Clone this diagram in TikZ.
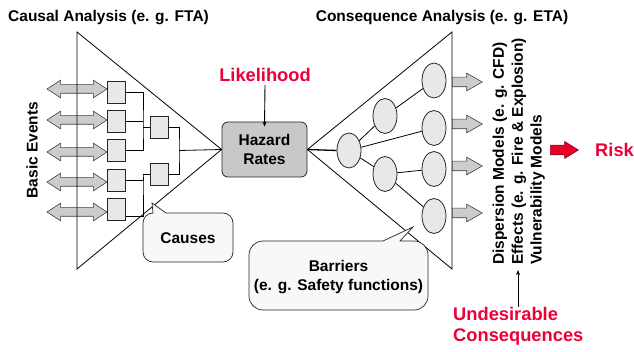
\documentclass[tikz,border=0pt]{standalone}
\usepackage{fontspec}
\setmainfont{Liberation Sans}
\usetikzlibrary{arrows.meta,shapes.geometric,shapes.arrows}
\definecolor{redtxt}{RGB}{236,0,56}
\definecolor{boxfill}{RGB}{232,232,232}
\definecolor{hazfill}{RGB}{200,200,200}
\definecolor{arrfill}{RGB}{204,204,204}
\definecolor{callfill}{RGB}{248,248,248}
\definecolor{riskfill}{RGB}{232,0,40}
\definecolor{riskdraw}{RGB}{150,0,20}
\tikzset{
  txt/.style={font=\fontsize{15.5}{18.8}\selectfont\bfseries, inner sep=0pt},
  redt/.style={font=\fontsize{18.3}{21}\selectfont\bfseries, text=redtxt, inner sep=0pt},
  evbox/.style={draw=black!85, fill=boxfill, minimum width=18pt, minimum height=22pt, inner sep=0pt, line width=0.6pt},
  circ/.style={ellipse, draw=black!85, fill=boxfill, minimum width=24pt, minimum height=35pt, inner sep=0pt, line width=0.8pt},
  tri/.style={line width=0.8pt},
  conn/.style={line width=0.8pt},
  dbl/.style={double arrow, draw=black!75, fill=arrfill, line width=0.6pt, minimum height=60pt, inner xsep=0pt, inner ysep=4pt, double arrow head extend=4.5pt, double arrow tip angle=66, anchor=center},
  sgl/.style={single arrow, draw=black!75, fill=arrfill, line width=0.6pt, minimum height=30pt, inner xsep=0pt, inner ysep=4.5pt, single arrow head extend=4pt, single arrow tip angle=59, anchor=west},
  callout/.style={draw=black!85, fill=callfill, line width=0.7pt},
}
\begin{document}
\begin{tikzpicture}[x=1pt,y=-1pt]
\useasboundingbox (0,0) rectangle (634,352);

% titles
\node[txt, anchor=west] (t1) at (8,18) {Causal Analysis (e. g. FTA)};
\node[txt] (t2) at (442,18) {Consequence Analysis (e. g. ETA)};

% basic events
\node[txt, rotate=90] (be) at (32,150) {Basic Events};

% double arrows
\node[dbl] (a1) at (77,89) {};
\node[dbl] (a2) at (77,120) {};
\node[dbl] (a3) at (77,152) {};
\node[dbl] (a4) at (77,182) {};
\node[dbl] (a5) at (77,212) {};

% hazard box
\node[draw=black!85, fill=hazfill, rounded corners=6pt, minimum width=85pt, minimum height=55pt, line width=0.8pt, txt, align=center] (haz) at (264.5,149.5) {Hazard\\Rates};

% left triangle
\coordinate (lt) at (77,32);
\coordinate (lb) at (77,269);
\draw[tri] (lt) -- (lb) -- (haz.west) -- cycle;

% right triangle
\coordinate (rt) at (452,32);
\coordinate (rb) at (452,269);
\draw[tri] (rt) -- (rb) -- (haz.east) -- cycle;

% event boxes
\node[evbox] (b1) at (116.5,92) {};
\node[evbox] (b2) at (116.5,121) {};
\node[evbox] (b3) at (116.5,150.5) {};
\node[evbox] (b4) at (116.5,180.5) {};
\node[evbox] (b5) at (116.5,209.5) {};
\node[evbox] (g1) at (159,127.5) {};
\node[evbox] (g2) at (159,174) {};

\coordinate (j1) at (143,127.5);
\coordinate (j2) at (143,174);
\coordinate (j3) at (179,150.5);
\draw[conn] (b1.east) -| (j1) |- (b3.east);
\draw[conn] (b2.east) -- (b2.east -| j1);
\draw[conn] (j1) -- (g1.west);
\draw[conn] (b4.east) -| (j2) |- ([yshift=-6.5pt]b5.east);
\draw[conn] (j2) -- (g2.west);
\draw[conn] (g1.east) -| (j3) |- (g2.east);
\draw[conn] (j3) -- (haz.west);

% likelihood
\node[redt] (lik) at (265,75) {Likelihood};
\draw[line width=0.9pt, -{Stealth[length=5pt,width=4pt]}] (lik.south) ++(0,3) -- ([yshift=-5pt]haz.north);

% event tree
\node[circ] (r) at (349,150.5) {};
\node[circ] (m1) at (385,116) {};
\node[circ] (m2) at (385,174) {};
\node[circ] (l1) at (434,80.5) {};
\node[circ] (l2) at (434,128) {};
\node[circ] (l3) at (434,169) {};
\node[circ] (l4) at (434,216) {};
\draw[line width=1.3pt] (haz.east) -- (r.west);
\draw[conn] (r) -- (m1);
\draw[conn] (r) -- (l2);
\draw[conn] (r) -- (m2);
\draw[conn] (m1) -- (l1);
\draw[conn] (m2) -- (l3);
\draw[conn] (m2) -- (l4);

% output arrows
\node[sgl] (o1) at (452,82) {};
\node[sgl] (o2) at (452,124) {};
\node[sgl] (o3) at (452,166) {};
\node[sgl] (o4) at (452,213) {};

% rotated model labels
\node[txt, rotate=90, anchor=west] (d1) at (500,265) {Dispersion Models (e. g. CFD)};
\node[txt, rotate=90, anchor=west] (d2) at (519,265) {Effects (e. g. Fire \& Explosion)};
\node[txt, rotate=90, anchor=west] (d3) at (537.5,265) {Vulnerability Models};

% risk
\node[single arrow, draw=riskdraw, fill=riskfill, line width=0.7pt, minimum height=28pt, inner xsep=0pt, inner ysep=4.5pt, single arrow head extend=3.5pt, single arrow tip angle=63, anchor=west] (ra) at (550,150) {};
\node[redt, anchor=west] (risk) at (595,150) {Risk};

% undesirable consequences
\node[redt, anchor=north west, align=left] (uc) at (453,307) {Undesirable\\Consequences};
\coordinate (ucs) at (518,307);
\draw[line width=0.9pt, -{Stealth[length=5pt,width=4pt]}] (ucs) -- (518,270);

% causes callout
\draw[callout] (153,213) -- (152,203) -- (166,213) [rounded corners=10pt] -- (233,213) -- (233,262) -- (143,262) -- (143,213) [sharp corners] -- cycle;
\node[txt] (causes) at (188,238) {Causes};

% barriers callout
\draw[callout] (383,241) -- (413,227) -- (400,241) [rounded corners=14pt] -- (428,241) -- (428,310) -- (249,310) -- (249,241) [sharp corners] -- cycle;
\node[txt, align=center] (barr) at (338.5,277) {Barriers\\(e. g. Safety functions)};
\end{tikzpicture}
\end{document}
